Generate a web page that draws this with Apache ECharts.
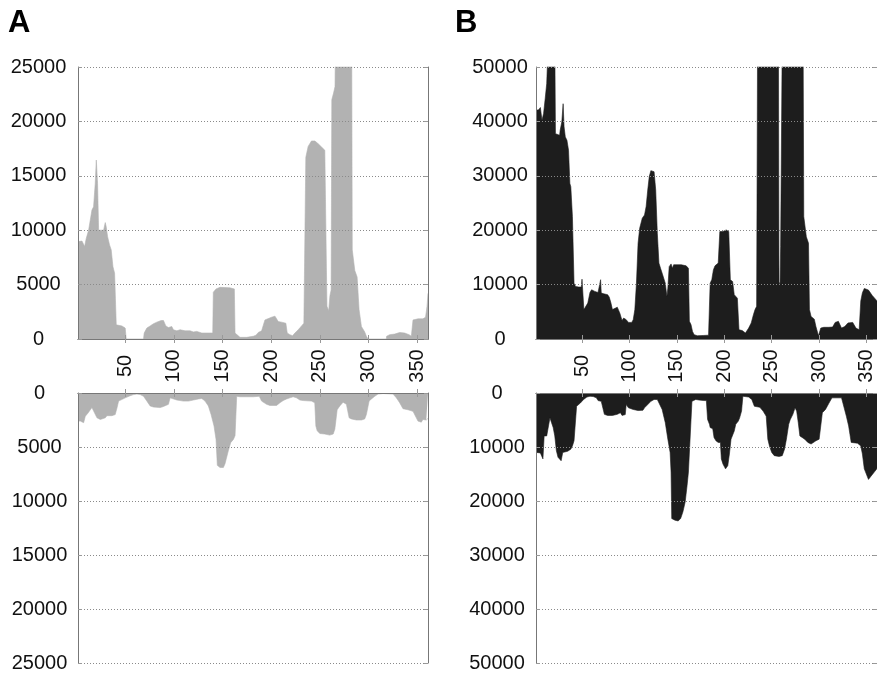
<!DOCTYPE html>
<html>
<head>
<meta charset="utf-8">
<script src="https://cdn.jsdelivr.net/npm/echarts@6/dist/echarts.min.js"></script>
<style>
  html, body { margin: 0; padding: 0; background: #fff; }
  #main { width: 877px; height: 673px; }
</style>
</head>
<body>
<div id="main"></div>
<script>
  // x tick labels shared by all four plots
  var xTicks = [50, 100, 150, 200, 250, 300, 350];

  // panel A, upper plot
  var aTopX = [1.5, 5.6, 7.3, 8.3, 10, 12.4, 15.8, 17.5, 19.2, 20.3, 21.6, 22.7, 24.4, 27.8, 29.5, 30.5, 31.9, 33.9, 35.6, 37.4, 39.1, 40.8, 46.6, 50, 51,
    68.8, 69.5, 72.2, 75.6, 79, 82.5, 86.9, 89.3, 91.7, 94.4, 97.8, 99.5, 103, 106.4, 111.5, 116.6, 120, 123.5, 128.6, 137.1, 139.9,
    140.5, 143.3, 147.4, 157.6, 162.1, 162.8, 164.5, 167.9, 174.7, 181.6, 184.3, 186.7, 190.1, 193.5, 195.2, 200.3, 203.8, 207.2, 210.6, 215,
    216.4, 219.1, 221.9, 224.3, 227.7, 231.1, 233.5, 235.5, 237.9, 241.3, 244.8, 248.2, 251.6, 255, 256.7, 257.2, 259, 260.3, 261.5,
    262.2, 264, 265.5, 266.5, 282.5, 283.2, 285.8, 288.2, 290.2, 292.6, 296, 297.7, 299.4, 318.2, 318.5, 321.7, 326.8, 331.9, 337, 341.5,
    343.9, 345.2, 345.6, 347.3, 350.7, 355.8, 358.5, 360, 361];
  var aTopY = [8950, 9000, 9100, 8500, 9250, 10000, 11850, 12150, 14300, 16450, 14300, 10000, 9900, 10000, 10700, 10300, 9400, 8650, 8200, 6650, 6050, 1300, 1200, 1000, 0,
    0, 550, 1000, 1200, 1400, 1550, 1700, 1700, 1200, 1050, 1150, 850, 750, 850, 750, 750, 650, 700, 550, 550, 550,
    4300, 4600, 4750, 4700, 4600, 550, 400, 150, 150, 250, 350, 600, 750, 1750, 1900, 2000, 2100, 1600, 1550, 1450,
    550, 400, 300, 550, 850, 1200, 1450, 16700, 17700, 18200, 18200, 17950, 17650, 17350, 17200, 3000, 2600, 4000, 4500,
    22000, 22600, 23200, 32000, 32000, 8200, 6300, 5700, 2700, 1150, 650, 250, 0, 0, 250, 400, 450, 600, 550, 400,
    250, 300, 1750, 1900, 1850, 1850, 2000, 3000, 4200];

  // panel A, lower plot (depth below zero line)
  var aBotX = [1.5, 3.9, 7.3, 9, 11.4, 15.8, 17.5, 21, 24.4, 29.5, 31.2, 36.3, 39.7, 41.5, 43.2, 44.9, 50, 55.1, 58.5, 62, 65.4, 68.8, 72.2, 75.6,
    79, 85.9, 89.3, 91.7, 94.4, 96.1, 97.8, 103, 109.8, 114.9, 120, 125.2, 128.6, 130.3, 132, 135.4, 138.2, 141.2, 143.3, 144.6, 147.4,
    150.8, 152.5, 155.9, 158.3, 161.1, 162.8, 164.5, 167.9, 174.7, 181.6, 187.7, 190.1, 195.2, 198.6, 205.5, 208.9, 212.3, 215.7, 219.1,
    222.5, 226, 229.4, 232.8, 241.3, 244.7, 245.8, 247.2, 249.9, 255, 260.1, 263.6, 265.3, 267.7, 270.4, 273.8, 275.5, 277.2, 280, 282.4,
    287.5, 292.6, 296, 297.7, 300.5, 302.9, 306.3, 309.7, 314.8, 325.1, 328.5, 331.9, 335.3, 340.4, 345.6, 349, 350.7, 354.1, 355.8, 359.2, 361];
  var aBotY = [2600, 2600, 2750, 2150, 1900, 1350, 1500, 2300, 2450, 2300, 2100, 2100, 2000, 1400, 750, 600, 450, 250, 150, 100, 150, 300, 750, 1200,
    1300, 1350, 1250, 1150, 1050, 450, 550, 650, 750, 750, 650, 550, 500, 450, 750, 1200, 2000, 3050, 4300, 6700, 6900,
    6900, 6550, 5350, 4600, 4300, 3950, 300, 350, 350, 350, 300, 750, 1050, 1150, 1150, 900, 700, 550, 450,
    350, 450, 650, 700, 750, 900, 3050, 3500, 3750, 3800, 3900, 3800, 3350, 1550, 1200, 850, 700, 1050, 2300, 2400,
    2500, 2500, 2400, 2000, 750, 550, 300, 100, 50, 100, 450, 900, 1450, 1550, 1700, 2300, 2600, 2700, 2450, 2500, 2350];

  // panel B, upper plot
  var bTopX = [1.7, 4.4, 6.1, 7.1, 7.8, 9.5, 11.2, 12.8, 14.5, 21.3, 22, 23, 26.4, 27, 28.7, 30.1, 31.1, 32.4, 34.1, 35.8, 37.2, 38.2, 39.9,
    41.6, 43.2, 46.6, 49.3, 50, 51, 52, 53.4, 56.1, 58.4, 60.1, 63.5, 66.9, 68.6, 69.6, 70.3, 73, 77, 78.7, 80.4, 82.1, 83.8, 87.2, 89.9,
    92.2, 93.9, 96.6, 99, 102.4, 104, 105.7, 107.4, 109.1, 110.8, 113.5, 115.9, 117.6, 119.3, 120.9, 122.6, 124.3, 126, 127.7, 129.4,
    131.1, 132.8, 134.5, 137.8, 139.5, 140.5, 141.9, 143.9, 145.3, 146.6, 154.7, 159.8, 162.2, 163.2, 164.9, 166.5, 168.2, 171.6, 178.4,
    183.4, 185.1, 186.8, 188.5, 190.2, 193.6, 195.3, 198.6, 202, 204.7, 206.4, 208.8, 210.5, 213.8, 215.5, 218.9, 222.3, 225.7, 228.4,
    230.7, 232.4, 234.1, 235.1, 257.1, 257.7, 258.8, 259.4, 261.1, 283.1, 283.8, 286.5, 288.8, 289.8, 291.5, 294.9, 296.6, 299.3, 301.7,
    305, 310.1, 314.2, 316.9, 320.3, 323.6, 327, 330.4, 335.4, 338.8, 342.2, 343.9, 345.6, 347.6, 352, 356, 361];
  var bTopY = [42050, 42150, 42550, 42650, 40200, 41450, 44200, 46950, 55000, 55000, 37750, 37450, 37450, 38400, 39900, 43250, 39000, 37150, 36550, 34700, 28600, 28000, 22500,
    10250, 9650, 9550, 9550, 11000, 10900, 5400, 5700, 6600, 8550, 9050, 8750, 8550, 8900, 10900, 8450, 8300, 8150, 7700, 6700, 5400, 5700, 5850, 4750,
    3400, 3850, 3550, 3050, 3050, 3550, 5400, 10250, 17600, 20350, 22200, 22800, 24350, 27400, 29850, 30950, 31050, 30750, 27400, 19450,
    13950, 13000, 12100, 10250, 7800, 9350, 13300, 13800, 13000, 13650, 13650, 13450, 13000, 3250, 2650, 1400, 800, 600, 650,
    700, 10250, 10900, 12700, 13450, 13950, 19750, 19750, 20050, 19750, 10900, 10550, 8150, 7500, 1700, 1550, 1100, 2000, 2950,
    4450, 5400, 6000, 55000, 55000, 10500, 10000, 17000, 55000, 55000, 22500, 18800, 17600, 5400, 4150, 3650, 2300, 600, 2000,
    2150, 2150, 2200, 3050, 3250, 2000, 2300, 2950, 3050, 2000, 1700, 7000, 8500, 9300, 9000, 8000, 7000];

  // panel B, lower plot (depth below zero line)
  var bBotX = [1.7, 6.1, 7.8, 8.8, 10.1, 12.8, 14.5, 16.2, 17.9, 19.6, 21.3, 23, 24.7, 28, 29.7, 31.4, 34.8, 38.2, 39.9, 41.6, 43.2, 44.3, 45.9,
    48.3, 51.7, 55.1, 58.4, 61.8, 65.2, 66.9, 70.3, 73.6, 77, 82.1, 87.2, 90.5, 92.2, 95.6, 96.6, 99, 104, 109.1, 114.2, 115.9, 119.3,
    122.6, 126, 129.4, 131.1, 134.5, 137.8, 140.5, 142.9, 143.9, 144.6, 148, 151.3, 154, 156.4, 158.8, 160.8, 162.2, 164.2, 165.9, 167.6,
    169.9, 173.3, 178.4, 181.1, 182.4, 184.4, 185.1, 187.8, 189.2, 191.2, 193.6, 195.9, 196.9, 198.6, 201.3, 203.7, 205.4, 207.1, 208.8,
    210.5, 212.1, 214.8, 216.2, 218.2, 219.6, 220.6, 225.7, 229, 231.7, 237.5, 240.9, 244.2, 245.9, 247.6, 250, 252.7, 257.7, 261.1,
    263.5, 265.5, 267.9, 269.6, 272.3, 274.6, 276.3, 278, 279.7, 281.4, 284.8, 288.1, 291.5, 296.6, 300, 301.7, 303.4, 306.7, 310.1,
    313.5, 323.6, 325.3, 328.7, 331.1, 333.8, 340.5, 343.9, 345.6, 347.6, 352, 361];
  var bBotY = [11000, 11100, 11300, 12200, 7950, 7950, 7650, 4600, 5500, 6400, 7950, 10700, 11900, 12550, 11000, 10700, 10800, 10400, 9800, 8850, 8550, 2450, 2150,
    1850, 1200, 750, 600, 650, 900, 1400, 1550, 3950, 4150, 4150, 3950, 3650, 4150, 4000, 2150, 2750, 3050, 3250, 3200, 2750, 2150,
    1550, 1200, 1200, 1550, 3050, 5500, 8550, 11000, 14650, 23250, 23550, 23700, 23250, 22000, 20150, 17100, 14650, 14350, 1550, 1350,
    1200, 1300, 1400, 1400, 4900, 5800, 6400, 6600, 8250, 8850, 9150, 9150, 12200, 13150, 14050, 13450, 11300, 8550, 8450,
    7050, 5800, 5200, 4600, 3350, 600, 500, 750, 1200, 2450, 2650, 3350, 4300, 8550, 9800, 11000, 11600, 11750, 11600,
    10400, 8550, 5800, 4900, 3950, 2750, 3350, 5500, 7950, 8250, 8550, 9150, 9450, 8850, 8550, 6100, 3650, 3050, 1950,
    900, 900, 1200, 4300, 6100, 9150, 9300, 9800, 11300, 14050, 16000, 14000];

  function pairs(xs, ys) {
    var out = [];
    for (var i = 0; i < xs.length; i++) out.push([xs[i], ys[i]]);
    return out;
  }

  function plain(v) { return String(v); }

  var labelFont = { fontFamily: 'Liberation Sans, Arial, sans-serif', fontSize: 20, color: '#111' };
  var frame = { show: true, lineStyle: { color: '#777', width: 1 } };
  var tick = { show: true, inside: true, length: 4, lineStyle: { color: '#999' } };

  function xAx(grid, pos, withLabels) {
    return {
      type: 'value', gridIndex: grid, position: pos, min: 1.5, max: 361, z: 3,
      axisLine: frame,
      axisTick: Object.assign({ customValues: xTicks }, tick),
      axisLabel: withLabels ? Object.assign({
        customValues: xTicks, rotate: 90, align: 'center', verticalAlign: 'middle', margin: 27, formatter: plain
      }, labelFont) : { show: false },
      splitLine: { show: false }
    };
  }

  function yAx(grid, pos, max, step, inverse, margin, withLabels) {
    return {
      type: 'value', gridIndex: grid, position: pos, min: 0, max: max, interval: step,
      inverse: inverse, z: 3,
      axisLine: frame,
      axisTick: tick,
      axisLabel: withLabels ? Object.assign({ align: 'center', margin: margin, formatter: plain }, labelFont) : { show: false },
      splitLine: withLabels ? { show: true, lineStyle: { color: '#8a8a8a', type: [1, 2], width: 1 } } : { show: false }
    };
  }

  function area(xi, yi, data, color) {
    return {
      type: 'line', xAxisIndex: xi, yAxisIndex: yi, data: data,
      showSymbol: false, symbol: 'none', clip: true, z: 2,
      lineStyle: { width: 0.6, color: color },
      areaStyle: { color: color, opacity: 1 }
    };
  }

  var gray = '#b2b2b2';
  var dark = '#1d1d1d';

  var option = {
    backgroundColor: '#fff',
    animation: false,
    grid: [
      { left: 78, top: 67, width: 350, height: 272 },
      { left: 78, top: 393, width: 350, height: 273 },
      { left: 536, top: 67, width: 354.7, height: 272 },
      { left: 536, top: 393, width: 354.7, height: 273 }
    ],
    xAxis: [
      xAx(0, 'bottom', true), xAx(0, 'top', false),
      xAx(1, 'bottom', false), xAx(1, 'top', false),
      xAx(2, 'bottom', true), xAx(2, 'top', false),
      xAx(3, 'bottom', false), xAx(3, 'top', false)
    ],
    yAxis: [
      yAx(0, 'left', 25000, 5000, false, 39.5, true), yAx(0, 'right', 25000, 5000, false, 0, false),
      yAx(1, 'left', 25000, 5000, true, 38.5, true), yAx(1, 'right', 25000, 5000, true, 0, false),
      yAx(2, 'left', 50000, 10000, false, 36, true), yAx(2, 'right', 50000, 10000, false, 0, false),
      yAx(3, 'left', 50000, 10000, true, 39, true), yAx(3, 'right', 50000, 10000, true, 0, false)
    ],
    graphic: [
      { type: 'text', left: 8, top: 8, style: { text: 'A', font: 'bold 31px "Liberation Sans", Arial, sans-serif', fill: '#000' } },
      { type: 'text', left: 455, top: 8, style: { text: 'B', font: 'bold 31px "Liberation Sans", Arial, sans-serif', fill: '#000' } }
    ],
    series: [
      area(0, 0, pairs(aTopX, aTopY), gray),
      area(2, 2, pairs(aBotX, aBotY), gray),
      area(4, 4, pairs(bTopX, bTopY), dark),
      area(6, 6, pairs(bBotX, bBotY), dark)
    ]
  };

  var myChart = echarts.init(document.getElementById('main'));
  myChart.setOption(option);
</script>
</body>
</html>
